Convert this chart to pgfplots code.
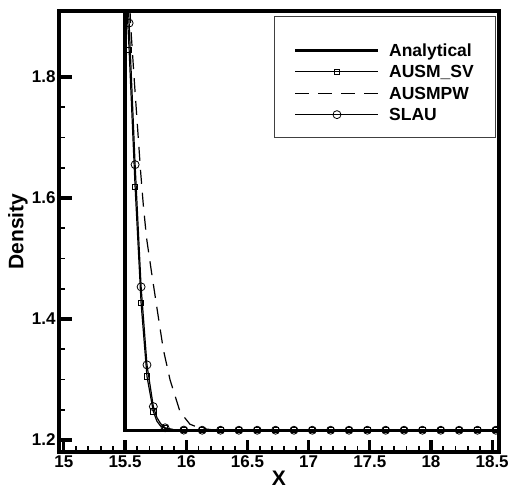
\documentclass[border=0pt]{standalone}
\usepackage{fontspec}
\setmainfont{Liberation Sans}
\usepackage{pgfplots}
\pgfplotsset{compat=1.18}

\begin{document}
\begin{tikzpicture}
\begin{axis}[
    scale only axis,
    width=440pt, height=441pt,
    xmin=14.96, xmax=18.556,
    ymin=1.18, ymax=1.909,
    xtick={15,15.5,16,16.5,17,17.5,18,18.5},
    ytick={1.2,1.4,1.6,1.8},
    minor x tick num=4,
    minor y tick num=3,
    tick align=inside,
    xtick pos=lower, ytick pos=left,
    major tick length=12.5pt,
    minor tick length=6pt,
    every major tick/.append style={line width=3.2pt, black},
    every minor tick/.append style={line width=1.8pt, black},
    axis line style={line width=3.2pt},
    tick label style={font=\fontsize{17}{19}\selectfont\bfseries},
    /pgf/number format/assume math mode=true,
    xlabel={X}, ylabel={Density},
    every axis x label/.style={at={(rel axis cs:0.5,0)}, anchor=center, yshift=-26pt},
    every axis y label/.style={at={(rel axis cs:0,0.5)}, anchor=center, xshift=-41pt, rotate=90},
    label style={font=\fontsize{21}{23}\selectfont\bfseries},
    legend style={at={(rel axis cs:0.994,0.988)}, anchor=north east,
        draw=black!75, line width=1.2pt,
        font=\fontsize{17.5}{18}\selectfont\bfseries,
        inner xsep=19pt, inner ysep=11pt, row sep=0pt,
        /tikz/every odd column/.append style={column sep=6pt},
        nodes={inner sep=3pt, text depth=3.2pt},
        cells={anchor=base west}},
    legend image code/.code={\draw[#1, mark indices={2}, yshift=6pt] plot coordinates {(0pt,0pt) (41.5pt,0pt) (83pt,0pt)};},
]
% analytical solution
\addplot[black, line width=3.4pt] coordinates {(15.5,2.1) (15.5,1.216) (18.65,1.216)};
\addlegendentry{\rule{0pt}{25.5pt}Analytical}

% AUSM_SV
\addplot[black, line width=1.2pt, mark=square, mark size=2.6pt,
    mark options={solid, line width=0.8pt},
    mark indices={1,2,3,4,5,8,10,11,12,13,14,15,16,17,18,19,20,21,22,23,24,25,26,27}]
coordinates {
(15.505,1.96) (15.533,1.845) (15.582,1.618) (15.631,1.426) (15.679,1.305)
(15.731,1.247) (15.76,1.231) (15.79,1.223) (15.827,1.219) (15.90,1.2167)
(15.98,1.2162) (16.13,1.216) (16.28,1.216) (16.43,1.216) (16.58,1.216)
(16.73,1.216) (16.88,1.216) (17.03,1.216) (17.18,1.216) (17.33,1.216)
(17.48,1.216) (17.63,1.216) (17.78,1.216) (17.93,1.216) (18.08,1.216)
(18.23,1.216) (18.38,1.216) (18.53,1.216) (18.65,1.216)
};
\addlegendentry{\rule{0pt}{11.5pt}AUSM\_SV}

% AUSMPW
\addplot[black, line width=1.2pt, dash pattern=on 14pt off 9pt] coordinates {
(15.530,1.95) (15.540,1.91) (15.549,1.875) (15.574,1.798) (15.609,1.696)
(15.628,1.641) (15.650,1.586) (15.676,1.533) (15.717,1.476) (15.759,1.420)
(15.813,1.349) (15.868,1.299) (15.95,1.246) (16.03,1.226) (16.11,1.2195)
(16.2,1.217) (16.35,1.216) (18.65,1.216)
};
\addlegendentry{\rule{0pt}{11.5pt}AUSMPW}

% SLAU
\addplot[black, line width=1.2pt, mark=o, mark size=4pt,
    mark options={solid, line width=0.8pt},
    mark indices={1,2,3,4,5,8,10,11,12,13,14,15,16,17,18,19,20,21,22,23,24,25,26,27}]
coordinates {
(15.52,1.95) (15.533,1.889) (15.582,1.655) (15.631,1.453) (15.679,1.324)
(15.731,1.255) (15.76,1.237) (15.79,1.227) (15.827,1.220) (15.90,1.2168)
(15.98,1.2162) (16.13,1.216) (16.28,1.216) (16.43,1.216) (16.58,1.216)
(16.73,1.216) (16.88,1.216) (17.03,1.216) (17.18,1.216) (17.33,1.216)
(17.48,1.216) (17.63,1.216) (17.78,1.216) (17.93,1.216) (18.08,1.216)
(18.23,1.216) (18.38,1.216) (18.53,1.216) (18.65,1.216)
};
\addlegendentry{\rule{0pt}{11.5pt}SLAU}

\coordinate (SW) at (rel axis cs:0,0);
\coordinate (NE) at (rel axis cs:1,1);
\end{axis}
\draw[line width=3.2pt] (SW) rectangle (NE);
\pgfresetboundingbox
\path ([shift={(-59pt,-38pt)}]SW) rectangle ([shift={(12pt,11pt)}]NE);
\end{tikzpicture}
\end{document}
